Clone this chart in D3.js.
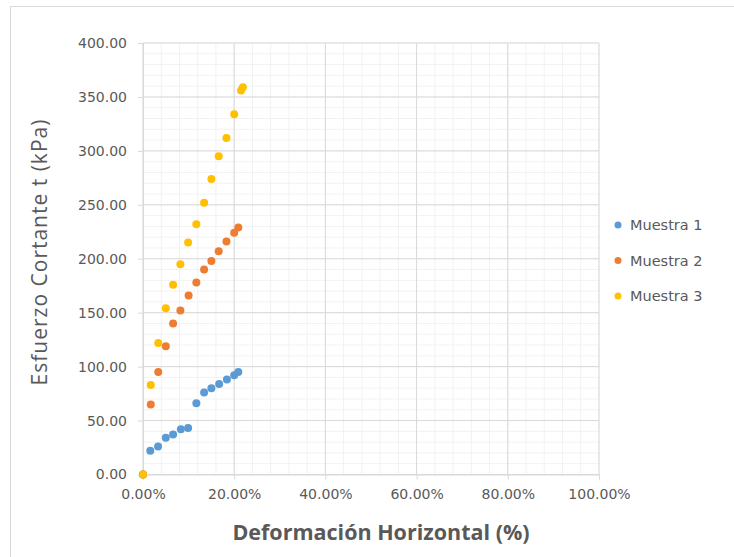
<!DOCTYPE html>
<html>
<head>
<meta charset="utf-8">
<script src="https://cdn.jsdelivr.net/npm/d3@7"></script>
<style>
  body { margin: 0; background: #fff; }
  text { font-family: "Open Sans", "Noto Sans", sans-serif; fill: #595959; }
</style>
</head>
<body>
<div id="chart"></div>
<script>
// data (x in %, y in kPa)
const seriesNames = ["Muestra 1", "Muestra 2", "Muestra 3"];
const seriesColors = ["#5B9BD5", "#ED7D31", "#FFC000"];

const deformacion1 = [0, 1.6, 3.3, 5.0, 6.6, 8.3, 9.9, 11.7, 13.4, 15.0, 16.7, 18.4, 20.0, 20.9];
const esfuerzo1 = [0, 22, 26, 34, 37, 42, 43, 66, 76, 80, 84, 88, 92, 95];

const deformacion2 = [0, 1.7, 3.35, 5.0, 6.6, 8.2, 10.0, 11.7, 13.4, 15.0, 16.6, 18.3, 20.0, 20.9];
const esfuerzo2 = [0, 65, 95, 119, 140, 152, 166, 178, 190, 198, 207, 216, 224, 229];

const deformacion3 = [0, 1.7, 3.35, 5.0, 6.6, 8.2, 9.9, 11.7, 13.4, 15.0, 16.6, 18.3, 20.0, 21.5, 21.9];
const esfuerzo3 = [0, 83, 122, 154, 176, 195, 215, 232, 252, 274, 295, 312, 334, 356, 359];

const xTicks = [0, 20, 40, 60, 80, 100];
const yTicks = [0, 50, 100, 150, 200, 250, 300, 350, 400];

const series = [
  { name: seriesNames[0], color: seriesColors[0], xs: deformacion1, ys: esfuerzo1 },
  { name: seriesNames[1], color: seriesColors[1], xs: deformacion2, ys: esfuerzo2 },
  { name: seriesNames[2], color: seriesColors[2], xs: deformacion3, ys: esfuerzo3 }
];

const W = 734, H = 557;
const plot = { left: 143, right: 599, top: 43, bottom: 474.5 };
const tickFont = '"DejaVu Sans", Verdana, sans-serif';

const svg = d3.select("#chart").append("svg")
  .attr("width", W)
  .attr("height", H);

// outer frame (runs off right/bottom edges like the screenshot)
svg.append("rect")
  .attr("x", 10.5).attr("y", 6.5)
  .attr("width", W + 10).attr("height", H + 10)
  .attr("fill", "none")
  .attr("stroke", "#d9d9d9");

const x = d3.scaleLinear().domain([0, 100]).range([plot.left, plot.right]);
const y = d3.scaleLinear().domain([0, 400]).range([plot.bottom, plot.top]);

// minor grid
const g = svg.append("g");
g.selectAll(".vminor").data(d3.range(0, 101, 4))
  .join("line")
    .attr("x1", d => x(d)).attr("x2", d => x(d))
    .attr("y1", plot.top).attr("y2", plot.bottom)
    .attr("stroke", "#f2f2f2");
g.selectAll(".hminor").data(d3.range(0, 401, 10))
  .join("line")
    .attr("x1", plot.left).attr("x2", plot.right)
    .attr("y1", d => y(d)).attr("y2", d => y(d))
    .attr("stroke", "#f2f2f2");

// major grid
g.selectAll(".vmajor").data(xTicks)
  .join("line")
    .attr("x1", d => x(d)).attr("x2", d => x(d))
    .attr("y1", plot.top).attr("y2", plot.bottom)
    .attr("stroke", "#d9d9d9");
g.selectAll(".hmajor").data(yTicks)
  .join("line")
    .attr("x1", plot.left).attr("x2", plot.right)
    .attr("y1", d => y(d)).attr("y2", d => y(d))
    .attr("stroke", "#d9d9d9");

// axes
const xAxis = svg.append("g")
  .attr("transform", `translate(0,${plot.bottom})`)
  .call(d3.axisBottom(x).tickValues(xTicks).tickSize(5).tickPadding(10)
    .tickFormat(d => d.toFixed(2) + "%"));
const yAxis = svg.append("g")
  .attr("transform", `translate(${plot.left},0)`)
  .call(d3.axisLeft(y).tickValues(yTicks).tickSize(5).tickPadding(11)
    .tickFormat(d => d.toFixed(2)));

[xAxis, yAxis].forEach(a => {
  a.select(".domain").attr("stroke", "#d9d9d9");
  a.selectAll(".tick line").attr("stroke", "#d9d9d9");
  a.selectAll(".tick text")
    .attr("fill", "#595959")
    .style("font-size", "14px")
    .style("font-family", tickFont);
});

// points
series.forEach(s => {
  svg.append("g").selectAll("circle")
    .data(s.xs.map((v, i) => [v, s.ys[i]]))
    .join("circle")
      .attr("cx", d => x(d[0]))
      .attr("cy", d => y(d[1]))
      .attr("r", 4)
      .attr("fill", s.color);
});

// axis titles
svg.append("text")
  .attr("x", 381).attr("y", 540)
  .attr("text-anchor", "middle")
  .style("font-size", "21.5px")
  .style("font-weight", "bold")
  .text("Deformación Horizontal (%)");

svg.append("text")
  .attr("transform", "translate(47,252) rotate(-90)")
  .attr("text-anchor", "middle")
  .style("font-size", "21px")
  .style("letter-spacing", "1px")
  .text("Esfuerzo Cortante  t (kPa)");

// legend
const legend = svg.append("g")
  .selectAll("g")
  .data(series)
  .join("g")
    .attr("transform", (d, i) => `translate(618,${225 + i * 35.5})`);
legend.append("circle").attr("r", 3.5).attr("fill", d => d.color);
legend.append("text")
  .attr("x", 12).attr("dy", "0.36em")
  .style("font-size", "14.5px")
  .style("font-family", tickFont)
  .text(d => d.name);
</script>
</body>
</html>
